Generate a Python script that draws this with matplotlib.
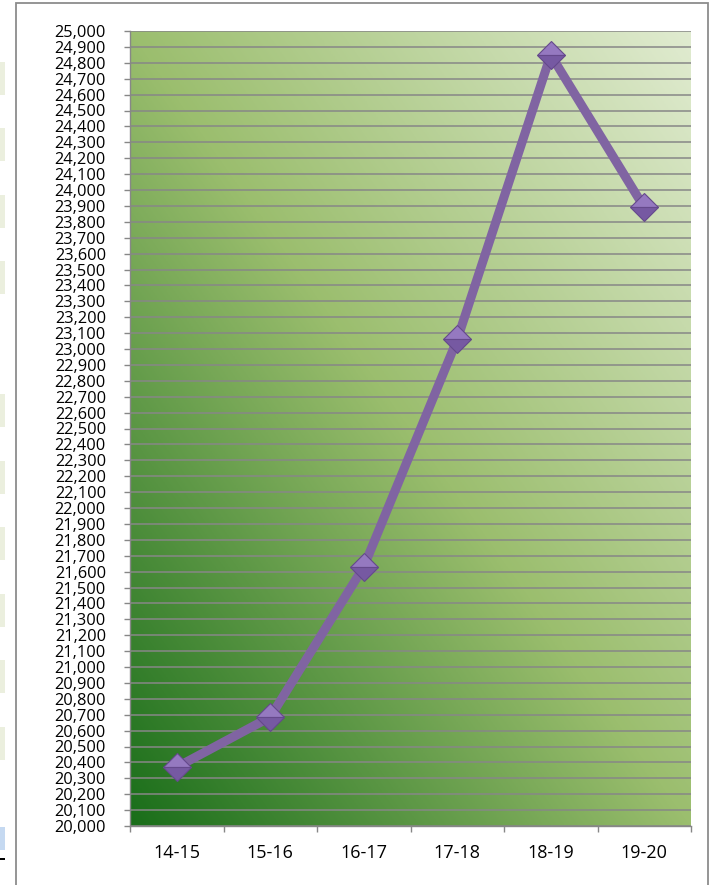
import numpy as np
import matplotlib
matplotlib.use("Agg")
import matplotlib.pyplot as plt
from matplotlib.patches import Rectangle
from matplotlib.colors import LinearSegmentedColormap

categories = ['14-15', '15-16', '16-17', '17-18', '18-19', '19-20']
values = [20370, 20685, 21630, 23060, 24850, 23890]
y_min, y_max, y_step = 20000, 25000, 100

W, H = 711, 885
fig = plt.figure(figsize=(W / 100, H / 100), dpi=100)
fig.patch.set_facecolor('white')

def px(x0, y0, x1, y1):
    # pixel box -> figure fraction rect
    return (x0 / W, 1 - y1 / H, (x1 - x0) / W, (y1 - y0) / H)

# left-edge artifacts (cropped neighbouring content)
for top in [62, 128, 195, 261, 394, 461, 527, 594, 660, 727]:
    x, y, w, h = px(0, top, 5, top + 33)
    fig.patches.append(Rectangle((x, y), w, h, transform=fig.transFigure,
                                 facecolor='#EBEFDE', edgecolor='none'))
x, y, w, h = px(0, 827, 5, 850)
fig.patches.append(Rectangle((x, y), w, h, transform=fig.transFigure,
                             facecolor='#C5D9F1', edgecolor='none'))
x, y, w, h = px(0, 857.5, 5, 859.5)
fig.patches.append(Rectangle((x, y), w, h, transform=fig.transFigure,
                             facecolor='black', edgecolor='none'))

# chart frame
x, y, w, h = px(16, 3, 708, 900)
fig.patches.append(Rectangle((x, y), w, h, transform=fig.transFigure,
                             facecolor='none', edgecolor='#8C8C8C', lw=1.3))

ax = fig.add_axes(px(130, 31, 691, 826))

# gradient background: dark green bottom-left -> light top-right
cmap = LinearSegmentedColormap.from_list('g', [
    (0.0, (26/255, 110/255, 26/255)),
    (0.5, (155/255, 190/255, 110/255)),
    (1.0, (224/255, 235/255, 208/255)),
])
u = np.linspace(0, 1, 300)
v = np.linspace(0, 1, 300)
U, V = np.meshgrid(u, v)
T = (U + V) / 2
ax.imshow(T, cmap=cmap, extent=[0, 1, 0, 1], transform=ax.transAxes,
          origin='lower', aspect='auto', zorder=0, interpolation='bilinear')

xs = np.arange(len(categories))
ax.plot(xs, values, color='#8064A2', lw=6.5, zorder=3, solid_capstyle='butt')
ax.plot(xs, values, linestyle='none', marker='D', markersize=14,
        fillstyle='top', markerfacecolor='#9579C0',
        markerfacecoloralt='#7659A2', markeredgecolor='#65498C',
        markeredgewidth=0.8, zorder=4)

ax.set_xlim(-0.5, len(categories) - 0.5)
ax.set_ylim(y_min, y_max)
ax.set_yticks(np.arange(y_min, y_max + 1, y_step))
ax.set_yticklabels([f'{v:,}' for v in range(y_min, y_max + 1, y_step)])
ax.set_xticks(xs)
ax.set_xticklabels(categories)
ax.set_xticks(np.arange(-0.5, len(categories), 1), minor=True)

ax.set_axisbelow(True)
ax.grid(axis='y', color='#878787', lw=1.1)
ax.grid(axis='x', visible=False)

for s in ['top', 'right']:
    ax.spines[s].set_visible(False)
for s in ['left', 'bottom']:
    ax.spines[s].set_color('#878787')
    ax.spines[s].set_linewidth(1.0)

font = 'Open Sans'
ax.tick_params(axis='y', direction='out', length=4.3, width=1.0, color='#878787',
               pad=13, labelsize=11.8, labelcolor='black')
ax.tick_params(axis='x', which='major', length=0, pad=13, labelsize=13,
               labelcolor='black')
ax.tick_params(axis='x', which='minor', direction='out', length=4.3, width=1.0,
               color='#878787')
for lab in ax.get_yticklabels() + ax.get_xticklabels():
    lab.set_family(font)
    lab.set_linespacing(1.0)

fig.savefig('out.png', dpi=100)
